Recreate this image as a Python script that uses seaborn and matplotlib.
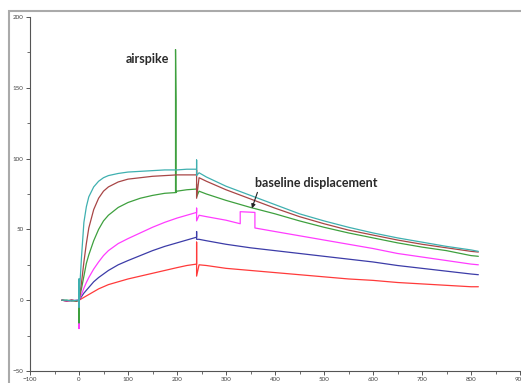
import matplotlib
matplotlib.use("Agg")
import matplotlib.pyplot as plt
from matplotlib.patches import Rectangle
from matplotlib.ticker import MultipleLocator
import seaborn as sns
import pandas as pd

# ---------------- data ----------------
t_base = [-35, -25, -15, -5, 0]
t_assoc = [0, 5, 10, 15, 20, 30, 40, 50, 60, 80, 100, 125, 150, 175, 200, 220, 240]
t_dissoc = [245, 260, 300, 350, 400, 450, 500, 550, 600, 650, 700, 750, 800, 815]

series_names = ["red", "blue", "magenta", "green", "darkred", "cyan"]
series_colors = ["#ff3a3a", "#3c3ca8", "#ff3cff", "#3ea03e", "#a84646", "#3fb0b0"]

base_red = [0, -0.5, 0, -0.5, 0]
base_blue = [0, -0.5, 0, -0.5, 0]
base_magenta = [0, -0.5, -0.5, 0, 0]
base_green = [0, 0, -0.5, -0.5, 0]
base_darkred = [0, -0.5, 0, -0.5, 0]
base_cyan = [0, 0, -0.5, 0, 0]

assoc_red = [0, 1, 2, 3, 4, 6, 8, 9.5, 11, 13, 15, 17, 19, 21, 23, 24.5, 25.5]
assoc_blue = [0, 2.5, 5, 7, 9, 13, 16, 18.5, 21, 25, 28, 31.5, 35, 38, 40.5, 42.5, 44.5]
assoc_magenta = [0, 4, 8.5, 12.5, 16, 22, 27, 31.5, 35, 40, 43.5, 47.5, 51.5, 55, 58, 60, 62]
assoc_green = [0, 8, 17, 26, 32, 42, 50, 56, 60, 65.5, 69, 72, 74, 75.5, 77, 78, 78.5]
assoc_darkred = [0, 12, 27, 40, 51, 64, 72, 77, 80, 83.5, 85.5, 86.5, 87.5, 88, 88.5, 88.5, 88.5]
assoc_cyan = [0, 30, 55, 66, 73, 80, 84, 86.5, 88, 89.5, 90.5, 91, 91.5, 92, 92, 92.5, 92.5]

dissoc_red = [25, 24.5, 22.5, 21, 19.5, 18, 16.5, 15, 14, 12.5, 11.5, 10.5, 9.5, 9.5]
dissoc_blue = [43, 42, 39.5, 37, 35, 33, 31, 29, 27, 24.5, 22.5, 20.5, 18.5, 18]
dissoc_magenta = [60, 59, 56.5, 52.5, 48.5, 45.5, 42.5, 39.5, 36.5, 33, 30.5, 28, 25.5, 25]
dissoc_green = [77, 75, 70.5, 65.5, 61, 56, 51.5, 47.5, 44, 40.5, 37.5, 35, 31.5, 31]
dissoc_darkred = [86.5, 84, 78, 71.5, 65, 59, 54, 49.5, 46, 42.5, 39.5, 37, 34.5, 34]
dissoc_cyan = [90, 87, 80.5, 74, 67.5, 61, 56, 51.5, 47.5, 44, 41, 38, 35.5, 34.5]

# injection-start / injection-end spikes (high, low)
spike0_hi = [7, 3, 3, 5, 8, 15]
spike0_lo = [-3, -10, -20, -16, -5, -5]
spike240_hi = [41, 48.5, 65, 82, 92, 99]
spike240_lo = [17, 43, 56, 73, 72, 88]

# airspike on the green curve
air_t = [197, 197, 198, 198]
air_v = [76, 177, 141, 76]

# baseline displacement on the magenta curve
disp_t = [329, 329, 359, 359]
disp_v = [54, 62.5, 62, 51]

bases = [base_red, base_blue, base_magenta, base_green, base_darkred, base_cyan]
assocs = [assoc_red, assoc_blue, assoc_magenta, assoc_green, assoc_darkred, assoc_cyan]
dissocs = [dissoc_red, dissoc_blue, dissoc_magenta, dissoc_green, dissoc_darkred, dissoc_cyan]

rows = []
for i, name in enumerate(series_names):
    seq = []
    seq += list(zip(t_base, bases[i]))
    seq += [(0, spike0_hi[i]), (0, spike0_lo[i])]
    for t, v in zip(t_assoc, assocs[i]):
        if name == "green" and t == 200:
            seq += list(zip(air_t, air_v))
        seq.append((t, v))
    seq += [(240, spike240_hi[i]), (240, spike240_lo[i])]
    for t, v in zip(t_dissoc, dissocs[i]):
        if name == "magenta" and t == 350:
            seq += list(zip(disp_t, disp_v))
            continue
        seq.append((t, v))
    for k, (t, v) in enumerate(seq):
        rows.append({"series": name, "order": k, "time": t, "response": v})

df = pd.DataFrame(rows)

# ---------------- plot ----------------
sns.set_style("white")
plt.rcParams["font.family"] = ["Lato", "DejaVu Sans"]

fig = plt.figure(figsize=(5.21, 3.83), dpi=100)
ax = fig.add_axes([30 / 521, 12 / 383, 490 / 521, 354 / 383])

sns.lineplot(data=df, x="time", y="response", hue="series", units="series",
             estimator=None, sort=False, palette=dict(zip(series_names, series_colors)),
             hue_order=series_names, linewidth=0.9, legend=False, ax=ax)

ax.set_xlim(-100, 900)
ax.set_ylim(-50, 200)
ax.set_xlabel("")
ax.set_ylabel("")
ax.xaxis.set_major_locator(MultipleLocator(100))
ax.xaxis.set_minor_locator(MultipleLocator(50))
ax.yaxis.set_major_locator(MultipleLocator(50))
ax.yaxis.set_minor_locator(MultipleLocator(25))
for s in ["top", "right"]:
    ax.spines[s].set_visible(False)
for s in ["left", "bottom"]:
    ax.spines[s].set_color("#555555")
    ax.spines[s].set_linewidth(0.8)
ax.tick_params(which="major", direction="out", length=3, width=0.7, color="#555555",
               labelsize=4.5, labelcolor="#444444", pad=1.5)
ax.tick_params(which="minor", direction="out", length=2, width=0.6, color="#555555")
ax.tick_params(axis="both", which="both", bottom=True, left=True)

ax.text(139, 170, "airspike", fontsize=9, color="#2a2a2a", ha="center", va="center",
        fontweight="bold")
ax.text(484, 83, "baseline displacement", fontsize=9, color="#2a2a2a", ha="center",
        va="center", fontweight="bold")
ax.annotate("", xy=(351, 63), xytext=(366, 78),
            arrowprops=dict(arrowstyle="-|>", color="#222222", lw=0.8,
                            mutation_scale=6))

fig.patches.append(Rectangle((9 / 521, -0.05), 1.0, (383 - 11) / 383 + 0.05,
                             transform=fig.transFigure, fill=False,
                             edgecolor="#aaaaaa", linewidth=1.5, zorder=0))

fig.savefig("out.png", dpi=100)
